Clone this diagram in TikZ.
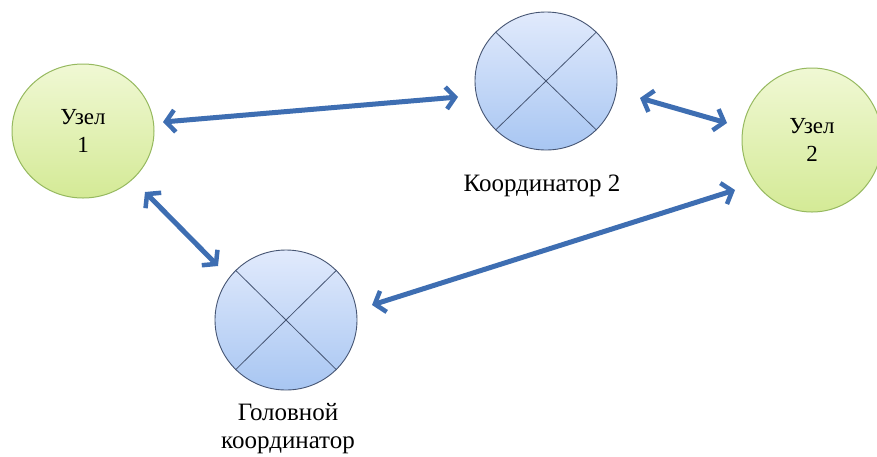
\documentclass[tikz,border=0pt]{standalone}
\usepackage{fontspec}
\setmainfont{Liberation Serif}
\newfontfamily\serifcyr{Liberation Serif}
\usetikzlibrary{arrows.meta,shapes.geometric}
\definecolor{arrblue}{RGB}{62,110,178}
\definecolor{gtop}{RGB}{240,248,212}
\definecolor{gbot}{RGB}{212,234,150}
\definecolor{gedge}{RGB}{150,185,95}
\definecolor{btop}{RGB}{225,234,252}
\definecolor{bbot}{RGB}{168,198,242}
\definecolor{bedge}{RGB}{70,85,115}
\tikzset{
  nodecirc/.style={ellipse, minimum width=142pt, minimum height=136pt, inner sep=0pt,
    draw=gedge, line width=1pt, top color=gtop, bottom color=gbot, align=center,
    font=\serifcyr\fontsize{23}{28}\selectfont},
  coordcirc/.style={ellipse, minimum width=142pt, minimum height=138pt, inner sep=0pt,
    draw=bedge, line width=0.9pt, top color=btop, bottom color=bbot},
  cross/.style={draw=bedge, line width=0.8pt},
  lbl/.style={align=center, font=\serifcyr\fontsize{25}{28}\selectfont},
  link/.style={draw=arrblue, line width=5pt, {Straight Barb[length=9pt,width=22pt,line width=4.5pt]}-{Straight Barb[length=9pt,width=22pt,line width=4.5pt]}}
}
\begin{document}
\begin{tikzpicture}[x=1pt,y=-1pt]
\useasboundingbox (0,0) rectangle (877,456);
\fill[white] (0,0) rectangle (877,456);
\node[nodecirc, minimum height=134pt] (n1) at (83,131) {Узел\\1};
\node[nodecirc, minimum height=144pt, minimum width=140pt] (n2) at (812,140) {Узел\\2};
\node[coordcirc] (c2) at (546,81) {};
\node[coordcirc, minimum height=140pt] (hc) at (286,320) {};
\draw[cross] (c2.north west) -- (c2.south east) (c2.north east) -- (c2.south west);
\draw[cross] (hc.north west) -- (hc.south east) (hc.north east) -- (hc.south west);
\node[lbl] (c2l) at (542,186) {Координатор 2};
\node[lbl] (hcl) at (288,429) {Головной\\координатор};
\coordinate (a1) at (163,122); \coordinate (b1) at (458,97);
\coordinate (a2) at (640,98);  \coordinate (b2) at (727,123);
\coordinate (a3) at (145,192); \coordinate (b3) at (218,266);
\coordinate (a4) at (372,305); \coordinate (b4) at (735,190);
\draw[link] (a1) -- (b1);
\draw[link] (a2) -- (b2);
\draw[link] (a3) -- (b3);
\draw[link] (a4) -- (b4);
\end{tikzpicture}
\end{document}
